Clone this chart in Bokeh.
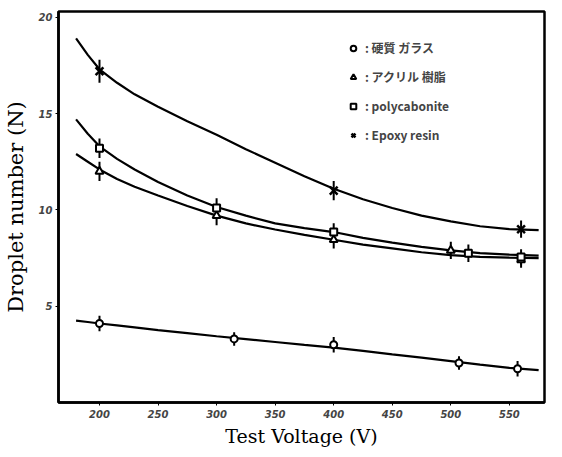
from bokeh.plotting import figure
from bokeh.models import Legend, LegendItem, Range1d, FixedTicker
from bokeh.embed import file_html
from bokeh.resources import INLINE

# ---- data ----
volt_circle = [200, 315, 400, 507, 557]
n_circle = [4.1, 3.3, 3.0, 2.05, 1.75]
err_circle = [0.4, 0.35, 0.4, 0.35, 0.4]

volt_tri = [200, 300, 400, 500, 560]
n_tri = [12.0, 9.7, 8.45, 7.9, 7.4]
err_tri = [0.5, 0.5, 0.45, 0.45, 0.4]

volt_sq = [200, 300, 400, 515, 560]
n_sq = [13.2, 10.1, 8.85, 7.75, 7.55]
err_sq = [0.5, 0.5, 0.45, 0.45, 0.4]

volt_x = [200, 400, 560]
n_x = [17.2, 11.0, 9.0]
err_x = [0.6, 0.5, 0.45]

curve_v = [180, 190, 200, 215, 230, 250, 275, 300, 325, 350, 375, 400, 425, 450, 475, 500, 525, 550, 575]
curve_x = [18.9, 18.05, 17.3, 16.6, 16.0, 15.35, 14.6, 13.9, 13.15, 12.45, 11.75, 11.1, 10.55, 10.1, 9.7, 9.4, 9.15, 9.0, 8.95]
curve_sq = [14.7, 13.95, 13.3, 12.65, 12.1, 11.45, 10.75, 10.15, 9.7, 9.3, 9.05, 8.85, 8.55, 8.3, 8.08, 7.9, 7.76, 7.68, 7.63]
curve_tri = [12.9, 12.5, 12.1, 11.6, 11.2, 10.75, 10.2, 9.7, 9.3, 8.98, 8.7, 8.45, 8.2, 8.0, 7.8, 7.65, 7.56, 7.52, 7.5]
curve_circ = [4.25, 4.18, 4.1, 4.0, 3.9, 3.76, 3.6, 3.44, 3.29, 3.14, 2.99, 2.85, 2.68, 2.5, 2.33, 2.15, 1.97, 1.8, 1.68]

x_ticks = [200, 250, 300, 350, 400, 450, 500, 550]
y_ticks = [5, 10, 15, 20]

labels = [": 硬質 ガラス", ": アクリル 樹脂", ": polycabonite", ": Epoxy resin"]

p = figure(width=546, height=449, output_backend="svg", toolbar_location=None,
           x_range=Range1d(165, 580), y_range=Range1d(0, 20.3),
           min_border_left=49, min_border_right=2, min_border_top=11, min_border_bottom=44)
p.grid.visible = False
p.outline_line_color = "black"
p.outline_line_width = 2.5
p.background_fill_color = "white"
p.border_fill_color = "white"

for ax in (p.xaxis[0], p.yaxis[0]):
    ax.axis_line_width = 2.5
    ax.major_tick_in = 0
    ax.major_tick_out = 3
    ax.minor_tick_line_color = None
    ax.major_label_text_font = "DejaVu Sans"
    ax.major_label_text_font_style = "bold italic"
    ax.major_label_text_font_size = "10px"
    ax.axis_label_text_font = "DejaVu Serif"
    ax.axis_label_text_font_style = "normal"
    ax.axis_label_text_color = "black"

p.xaxis.axis_label_text_font_size = "19px"
p.yaxis.axis_label_text_font_size = "21px"
p.xaxis.ticker = FixedTicker(ticks=x_ticks)
p.yaxis.ticker = FixedTicker(ticks=y_ticks)
p.xaxis.axis_label = "Test Voltage (V)"
p.yaxis.axis_label = "Droplet number (N)"
p.xaxis.major_label_standoff = 4
p.yaxis.major_label_standoff = 3
p.xaxis.axis_label_standoff = 4
p.yaxis.axis_label_standoff = 8

lw = 2.2
p.line(curve_v, curve_x, line_color="black", line_width=lw)
p.line(curve_v, curve_sq, line_color="black", line_width=lw)
p.line(curve_v, curve_tri, line_color="black", line_width=lw)
p.line(curve_v, curve_circ, line_color="black", line_width=lw)

def bars(xs, ys, es):
    p.segment(x0=xs, y0=[y - e for y, e in zip(ys, es)], x1=xs,
              y1=[y + e for y, e in zip(ys, es)], line_color="black", line_width=2)

bars(volt_circle, n_circle, err_circle)
bars(volt_tri, n_tri, err_tri)
bars(volt_sq, n_sq, err_sq)
bars(volt_x, n_x, err_x)

r_c = p.scatter(volt_circle, n_circle, marker="circle", size=7, fill_color="white",
                line_color="black", line_width=2)
r_t = p.scatter(volt_tri, n_tri, marker="triangle", size=8, fill_color="white",
                line_color="black", line_width=2)
r_s = p.scatter(volt_sq, n_sq, marker="square", size=7, fill_color="white",
                line_color="black", line_width=2)
r_x = p.scatter(volt_x, n_x, marker="x", size=11, line_color="black", line_width=2.5)

legend = Legend(items=[LegendItem(label=labels[0], renderers=[r_c]),
                       LegendItem(label=labels[1], renderers=[r_t]),
                       LegendItem(label=labels[2], renderers=[r_s]),
                       LegendItem(label=labels[3], renderers=[r_x])],
                location=(288, 259), padding=0, margin=0, spacing=12,
                glyph_width=14, glyph_height=14, label_height=14, label_standoff=5,
                label_text_font="Noto Sans CJK JP", label_text_font_size="12px",
                label_text_font_style="bold",
                background_fill_alpha=0, border_line_alpha=0)
p.add_layout(legend, "center")

open("out.html", "w").write(file_html(p, INLINE))
